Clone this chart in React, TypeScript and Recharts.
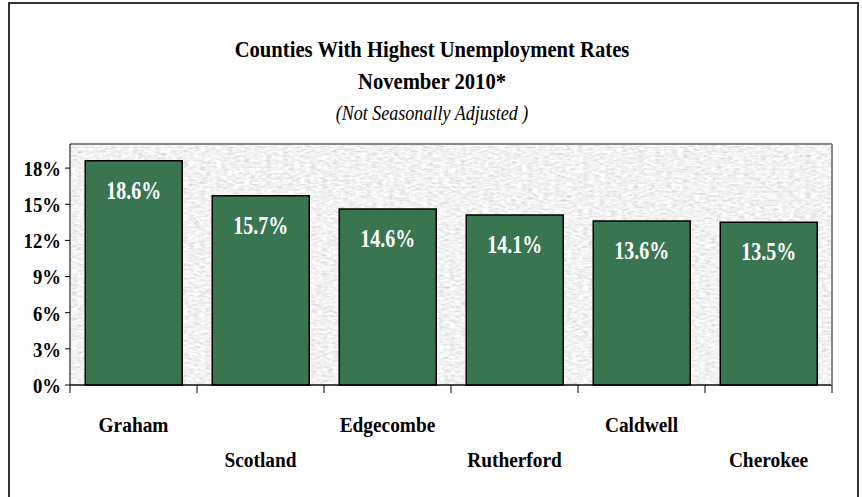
import { BarChart, Bar, XAxis, YAxis, CartesianGrid, LabelList, ReferenceLine } from "recharts";

const counties = ["Graham", "Scotland", "Edgecombe", "Rutherford", "Caldwell", "Cherokee"];
const rates = [18.6, 15.7, 14.6, 14.1, 13.6, 13.5];
const yTicks = [0, 3, 6, 9, 12, 15, 18];

const data = counties.map((name, i) => ({ name, rate: rates[i] }));

const FONT = '"Liberation Serif", "Times New Roman", serif';
const SQUEEZE = 0.85;

function YTick(props: any) {
  const { x, y, payload } = props;
  return (
    <text
      transform={`translate(${x - 2},${y}) scale(${SQUEEZE},1)`}
      textAnchor="end"
      dy="0.36em"
      fontFamily={FONT}
      fontWeight="bold"
      fontSize={22}
      fill="#000"
    >
      {`${payload.value}%`}
    </text>
  );
}

function XTick(props: any) {
  const { x, y, payload, index, width, visibleTicksCount } = props;
  const band = width && visibleTicksCount ? width / visibleTicksCount : 127;
  const last = index === (visibleTicksCount ?? counties.length) - 1;
  const rowY = index % 2 === 0 ? 47 : 82;
  return (
    <g>
      <line x1={x - band / 2} x2={x - band / 2} y1={y - 8} y2={y} stroke="#000" />
      {last && <line x1={x + band / 2} x2={x + band / 2} y1={y - 8} y2={y} stroke="#000" />}
      <text
        transform={`translate(${x},${y + rowY - 8}) scale(0.88,1)`}
        textAnchor="middle"
        fontFamily={FONT}
        fontWeight="bold"
        fontSize={22}
        fill="#000"
      >
        {payload.value}
      </text>
    </g>
  );
}

function BarValue(props: any) {
  const { x, y, width, value } = props;
  return (
    <text
      transform={`translate(${x + width / 2},${y + 38}) scale(0.8,1)`}
      textAnchor="middle"
      fontFamily={FONT}
      fontWeight="bold"
      fontSize={25}
      fill="#fff"
    >
      {`${value}%`}
    </text>
  );
}

export default function App() {
  return (
    <div style={{ position: "absolute", left: 0, top: 0, width: 862, height: 497, background: "#fff" }}>
      <svg width={0} height={0} style={{ position: "absolute" }}>
        <defs>
          <filter id="graniteNoise" x="0" y="0" width="1" height="1">
            <feTurbulence type="fractalNoise" baseFrequency="0.18 0.45" numOctaves={3} seed={11} />
            <feColorMatrix
              type="matrix"
              values="0.3 0.3 0.3 0 0.44  0.3 0.3 0.3 0 0.44  0.3 0.3 0.3 0 0.44  0 0 0 0 1"
            />
          </filter>
          <pattern id="granite" patternUnits="userSpaceOnUse" width={900} height={500}>
            <rect width={900} height={500} fill="#e4e4e4" filter="url(#graniteNoise)" />
          </pattern>
        </defs>
      </svg>
      <BarChart
        width={862}
        height={497}
        data={data}
        margin={{ top: 144, right: 0, bottom: 0, left: 8 }}
        barCategoryGap="12%"
      >
        <CartesianGrid vertical={false} stroke="#222" fill="url(#granite)" fillOpacity={1} />
        <XAxis
          dataKey="name"
          height={112}
          axisLine={{ stroke: "#000" }}
          tickLine={false}
          interval={0}
          tick={<XTick />}
        />
        <YAxis
          yAxisId="left"
          domain={[0, 20]}
          ticks={yTicks}
          width={62}
          axisLine={{ stroke: "#000" }}
          tickLine={{ stroke: "#000" }}
          tickSize={5}
          tick={<YTick />}
        />
        <YAxis
          yAxisId="right"
          orientation="right"
          domain={[0, 20]}
          width={30}
          axisLine={{ stroke: "#888", strokeWidth: 2 }}
          tick={false}
          tickLine={false}
        />
        <ReferenceLine yAxisId="left" y={20} stroke="#888" strokeWidth={2} />
        <Bar yAxisId="left" dataKey="rate" fill="#3a7552" stroke="#000" strokeWidth={1.5} isAnimationActive={false}>
          <LabelList dataKey="rate" content={<BarValue />} />
        </Bar>
      </BarChart>
      <svg width={862} height={497} style={{ position: "absolute", left: 0, top: 0, pointerEvents: "none" }}>
        <rect x={9} y={3} width={849} height={520} fill="none" stroke="#333" strokeWidth={2} />
        <g fontFamily={FONT} textAnchor="middle" fill="#000">
          <text transform="translate(432,57) scale(0.86,1)" fontWeight="bold" fontSize={24}>
            Counties With Highest Unemployment Rates
          </text>
          <text transform="translate(432,89) scale(0.86,1)" fontWeight="bold" fontSize={24}>
            November 2010*
          </text>
          <text transform="translate(432,120) scale(0.86,1)" fontStyle="italic" fontSize={21}>
            (Not Seasonally Adjusted )
          </text>
        </g>
      </svg>
    </div>
  );
}
